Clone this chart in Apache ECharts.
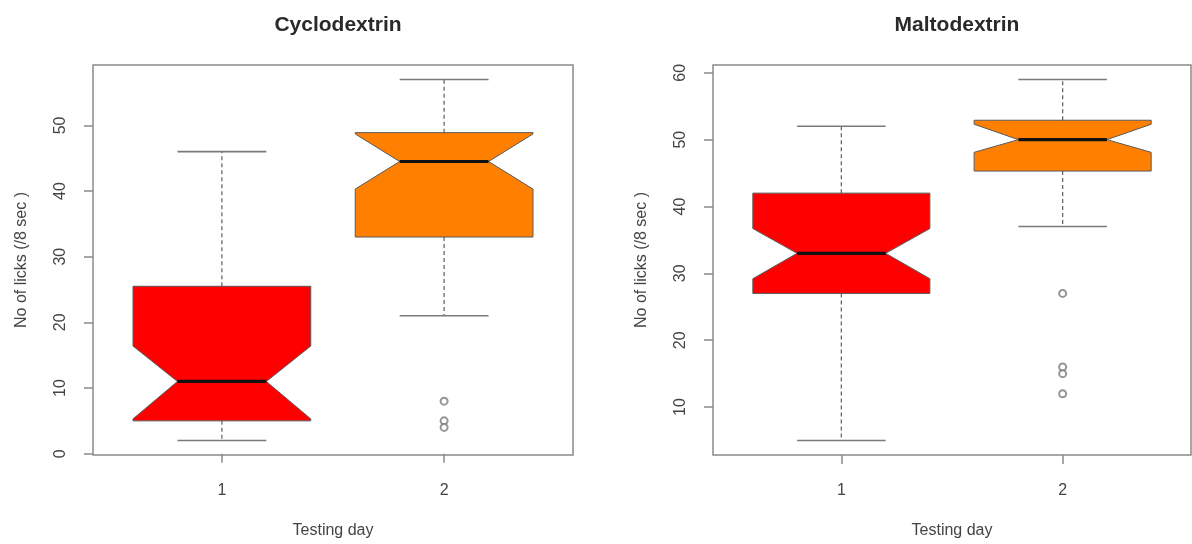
<!DOCTYPE html>
<html>
<head>
<meta charset="utf-8">
<script src="https://cdn.jsdelivr.net/npm/echarts@6/dist/echarts.min.js"></script>
<style>html,body{margin:0;padding:0;background:#fff}#c{width:1192px;height:544px}</style>
</head>
<body>
<div id="c"></div>
<script>
// ---- data ----
const categories = ['1', '2'];
const panelTitles = ['Cyclodextrin', 'Maltodextrin'];
const yAxisTitle = 'No of licks (/8 sec )';
const xAxisTitle = 'Testing day';
// each row: [lowerWhisker, Q1, notchLow, median, notchHigh, Q3, upperWhisker]
const cycloStats = [
  [2, 5, 5.3, 11, 16.4, 25.5, 46],
  [21, 33, 40.3, 44.5, 48.7, 48.9, 57]
];
const cycloOutliers = [[2, 8], [2, 5], [2, 4]];
const maltoStats = [
  [5, 27, 29.2, 33, 36.7, 42, 52],
  [37, 45.3, 48.1, 50, 52.3, 52.9, 59]
];
const maltoOutliers = [[2, 27], [2, 16], [2, 15], [2, 12]];
const cycloYTicks = [0, 10, 20, 30, 40, 50];
const maltoYTicks = [10, 20, 30, 40, 50, 60];
const xTicks = [1, 2];
const boxColors = ['#ff0000', '#ff8000'];

// ---- style ----
const frameColor = '#8a8a8a';
const textColor = '#444';
const font = 'Liberation Sans, Arial, sans-serif';

function yRange(stats, outliers) {
  let lo = Infinity, hi = -Infinity;
  stats.forEach(s => { lo = Math.min(lo, s[0]); hi = Math.max(hi, s[6]); });
  outliers.forEach(o => { lo = Math.min(lo, o[1]); hi = Math.max(hi, o[1]); });
  const pad = (hi - lo) * 0.04;
  return [lo - pad, hi + pad];
}

function renderBox(params, api) {
  const x = api.value(0);
  const v = [];
  for (let i = 1; i <= 7; i++) v.push(api.value(i));
  const [low, q1, nLo, med, nHi, q3, high] = v;
  const hw = 0.4, nw = 0.2;
  const p = (dx, y) => api.coord([x + dx, y]);
  const color = boxColors[params.dataIndex % boxColors.length];
  const poly = [
    p(-hw, q3), p(hw, q3), p(hw, nHi), p(nw, med), p(hw, nLo), p(hw, q1),
    p(-hw, q1), p(-hw, nLo), p(-nw, med), p(-hw, nHi)
  ];
  const wStyle = { stroke: '#6a6a6a', lineWidth: 1.3, lineDash: [4, 3] };
  const cStyle = { stroke: '#7a7a7a', lineWidth: 1.6 };
  const line = (a, b, style) => ({ type: 'line', shape: { x1: a[0], y1: a[1], x2: b[0], y2: b[1] }, style });
  return {
    type: 'group',
    children: [
      line(p(0, q3), p(0, high), wStyle),
      line(p(0, q1), p(0, low), wStyle),
      line(p(-nw, high), p(nw, high), cStyle),
      line(p(-nw, low), p(nw, low), cStyle),
      { type: 'polygon', shape: { points: poly }, style: { fill: color, stroke: '#5a5a5a', lineWidth: 1 } },
      line(p(-nw, med), p(nw, med), { stroke: '#111', lineWidth: 3.2 })
    ]
  };
}

const panels = [
  { stats: cycloStats, outliers: cycloOutliers, ticks: cycloYTicks, left: 93, right: 619, titleX: 333 },
  { stats: maltoStats, outliers: maltoOutliers, ticks: maltoYTicks, left: 713, right: 1, titleX: 952 }
];

const option = {
  backgroundColor: '#fff',
  animation: false,
  title: panels.map((pn, i) => ({
    text: panelTitles[i], left: pn.titleX, top: 10, textAlign: 'center',
    textStyle: { fontFamily: font, fontSize: 21, fontWeight: 'bold', color: '#2a2a2a' }
  })),
  grid: panels.map(pn => ({
    left: pn.left, right: pn.right, top: 65, bottom: 89,
    show: true, borderColor: frameColor, borderWidth: 1.5, backgroundColor: 'transparent'
  })),
  xAxis: panels.map((pn, i) => ({
    type: 'value', gridIndex: i, min: 0.42, max: 2.58,
    name: xAxisTitle, nameLocation: 'middle', nameGap: 68,
    nameTextStyle: { fontFamily: font, fontSize: 16, color: textColor },
    axisLine: { show: false },
    axisTick: { show: true, inside: false, length: 9, customValues: xTicks, lineStyle: { color: frameColor, width: 1.5 } },
    axisLabel: { show: true, margin: 28, customValues: xTicks, formatter: v => categories[v - 1],
      fontFamily: font, fontSize: 16, color: textColor },
    splitLine: { show: false }
  })),
  yAxis: panels.map((pn, i) => {
    const r = yRange(pn.stats, pn.outliers);
    return {
      type: 'value', gridIndex: i, min: r[0], max: r[1],
      name: yAxisTitle, nameLocation: 'middle', nameGap: 63,
      nameTextStyle: { fontFamily: font, fontSize: 16, color: textColor },
      axisLine: { show: false },
      axisTick: { show: true, inside: false, length: 9, customValues: pn.ticks, lineStyle: { color: frameColor, width: 1.5 } },
      axisLabel: { show: true, rotate: 90, margin: 24, customValues: pn.ticks,
        fontFamily: font, fontSize: 16, color: textColor },
      splitLine: { show: false }
    };
  }),
  series: panels.flatMap((pn, i) => [
    {
      type: 'custom', xAxisIndex: i, yAxisIndex: i,
      renderItem: renderBox,
      data: pn.stats.map((s, k) => [k + 1].concat(s)),
      encode: { x: 0, y: [1, 2, 3, 4, 5, 6, 7] },
      silent: true, z: 2
    },
    {
      type: 'scatter', xAxisIndex: i, yAxisIndex: i,
      data: pn.outliers,
      symbol: 'emptyCircle', symbolSize: 7,
      itemStyle: { color: '#7a7a7a', borderColor: '#7a7a7a', borderWidth: 1.3 },
      silent: true, z: 3
    }
  ])
};

const chart = echarts.init(document.getElementById('c'), null, { renderer: 'canvas' });
chart.setOption(option);
</script>
</body>
</html>
